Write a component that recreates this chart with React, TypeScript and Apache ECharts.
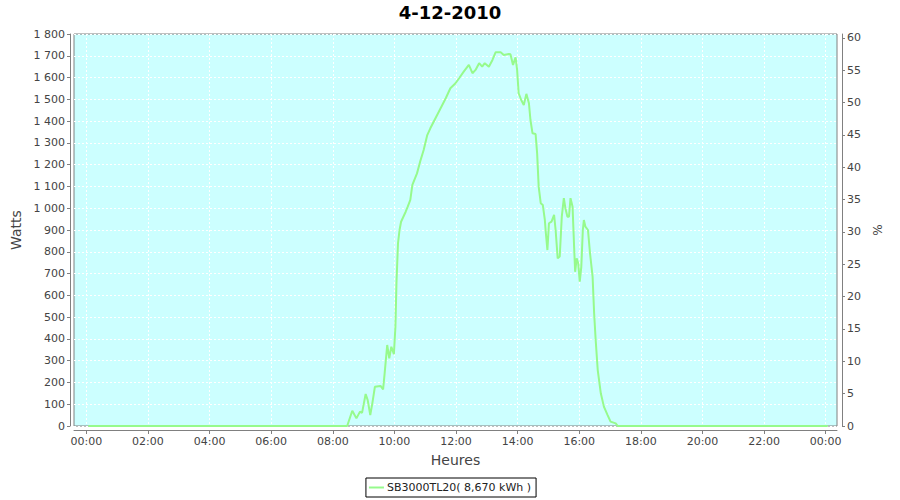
import React, { useEffect, useRef } from "react";
import * as echarts from "echarts";

const chartTitle = "4-12-2010";
const seriesName = "SB3000TL20( 8,670 kWh )";
const xAxisName = "Heures";
const leftAxisName = "Watts";
const rightAxisName = "%";

// sample times in minutes after midnight
const sampleMinutes = [
  4, 508, 518, 526, 533, 537, 544, 548, 553, 557, 562, 573, 578, 581, 586, 590, 594, 599, 602, 604,
  607, 610, 613, 622, 626, 631, 635, 644, 651, 657, 664, 670, 680, 690, 700, 709, 719, 726, 735, 745,
  752, 758, 765, 771, 776, 784, 791, 797, 807, 813, 823, 826, 831, 836, 839, 842, 847, 852, 857, 862,
  865, 869, 875, 878, 881, 885, 889, 893, 895, 898, 901, 906, 911, 914, 918, 922, 926, 930, 933, 937,
  940, 943, 947, 950, 952, 955, 958, 961, 964, 967, 969, 972, 977, 981, 986, 989, 992, 996, 1002, 1008,
  1015, 1021, 1031, 1035, 1444,
];
// power in watts
const powerWatts = [
  0, 0, 70, 35, 66, 60, 147, 119, 50, 104, 180, 184, 168, 242, 372, 311, 364, 330, 456, 655,
  839, 900, 938, 984, 1007, 1038, 1107, 1160, 1221, 1267, 1336, 1367, 1413, 1459, 1505, 1551, 1574, 1597, 1627, 1658,
  1620, 1635, 1666, 1650, 1666, 1650, 1681, 1716, 1716, 1704, 1708, 1707, 1658, 1693, 1635, 1528, 1497, 1474, 1525, 1482,
  1405, 1344, 1341, 1252, 1099, 1023, 1015, 946, 885, 808, 931, 938, 969, 900, 770, 778, 961, 1046, 1000, 961,
  961, 1046, 1007, 823, 708, 770, 747, 663, 731, 900, 946, 915, 900, 793, 686, 518, 395, 257, 150, 89,
  51, 20, 12, 0, 0,
];

const xTickMinutes = [0, 120, 240, 360, 480, 600, 720, 840, 960, 1080, 1200, 1320, 1440];
const rightTicks = [0, 5, 10, 15, 20, 25, 30, 35, 40, 45, 50, 55, 60];

const FONT = "DejaVu Sans";
const LABEL_COLOR = "#444444";
const AXIS_COLOR = "#808080";

function fmtWatts(v: number): string {
  if (v >= 1000) {
    const th = Math.floor(v / 1000);
    const rest = String(v % 1000).padStart(3, "0");
    return `${th} ${rest}`;
  }
  return String(v);
}

function fmtHour(v: number): string {
  const h = Math.round(v / 60) % 24;
  return String(h).padStart(2, "0") + ":00";
}

export default function App() {
  const ref = useRef<HTMLDivElement>(null);
  useEffect(() => {
    if (!ref.current) return;
    const chart = echarts.init(ref.current, undefined, { renderer: "svg" });
    const data = sampleMinutes.map((m, i) => [m, powerWatts[i]]);
    chart.setOption({
      animation: false,
      backgroundColor: "#ffffff",
      textStyle: { fontFamily: FONT },
      title: {
        text: chartTitle,
        left: "center",
        top: 3,
        padding: 0,
        textStyle: { fontFamily: FONT, fontSize: 18, fontWeight: "bold", color: "#000000" },
      },
      legend: {
        left: "center",
        top: 478,
        padding: [3, 5, 3, 3],
        borderColor: "#000000",
        borderWidth: 1,
        itemWidth: 15,
        itemHeight: 2,
        itemGap: 5,
        icon: "rect",
        textStyle: { fontFamily: FONT, fontSize: 11, color: "#222222", lineHeight: 13, padding: [0, 0, 0, -2] },
        data: [seriesName],
      },
      grid: {
        left: 74,
        top: 34,
        width: 763,
        height: 392,
        show: true,
        backgroundColor: "#ccffff",
        borderColor: AXIS_COLOR,
        borderWidth: 1,
      },
      xAxis: {
        type: "value",
        min: -24,
        max: 1462,
        offset: 4,
        name: xAxisName,
        nameLocation: "middle",
        nameGap: 23,
        nameTextStyle: { fontFamily: FONT, fontSize: 14, color: LABEL_COLOR },
        axisLine: { show: true, onZero: false, lineStyle: { color: AXIS_COLOR, width: 1 } },
        axisTick: { show: true, length: 4, lineStyle: { color: AXIS_COLOR }, customValues: xTickMinutes },
        axisLabel: {
          customValues: xTickMinutes,
          formatter: fmtHour,
          fontFamily: FONT,
          fontSize: 11,
          color: LABEL_COLOR,
          margin: 6,
        },
        splitLine: { show: true, lineStyle: { color: "#ffffff", type: [2, 2], width: 1 } },
      },
      yAxis: [
        {
          type: "value",
          position: "left",
          min: 0,
          max: 1800,
          interval: 100,
          offset: 4,
          name: leftAxisName,
          nameLocation: "middle",
          nameGap: 45,
          nameTextStyle: { fontFamily: FONT, fontSize: 14, color: LABEL_COLOR },
          axisLine: { show: true, onZero: false, lineStyle: { color: AXIS_COLOR, width: 1 } },
          axisTick: { show: true, length: 3, lineStyle: { color: AXIS_COLOR } },
          axisLabel: { formatter: fmtWatts, fontFamily: FONT, fontSize: 11, color: LABEL_COLOR, margin: 5 },
          splitLine: { show: true, lineStyle: { color: "#ffffff", type: [2, 2], width: 1 } },
        },
        {
          type: "value",
          position: "right",
          min: 0,
          max: 60.6,
          offset: 5,
          name: rightAxisName,
          nameLocation: "middle",
          nameGap: 25,
          nameTextStyle: { fontFamily: FONT, fontSize: 12, color: LABEL_COLOR },
          axisLine: { show: true, onZero: false, lineStyle: { color: AXIS_COLOR, width: 1 } },
          axisTick: { show: true, length: 3, lineStyle: { color: AXIS_COLOR }, customValues: rightTicks },
          axisLabel: { customValues: rightTicks, fontFamily: FONT, fontSize: 11, color: LABEL_COLOR, margin: 5 },
          splitLine: { show: false },
        },
      ],
      series: [
        {
          name: seriesName,
          type: "line",
          xAxisIndex: 0,
          yAxisIndex: 0,
          data,
          showSymbol: false,
          symbol: "none",
          color: "#96fa8c",
          lineStyle: { color: "#96fa8c", width: 2 },
        },
      ],
    });
    return () => chart.dispose();
  }, []);
  return (
    <div
      ref={ref}
      style={{ position: "fixed", left: 0, top: 0, width: 900, height: 500 }}
    />
  );
}
